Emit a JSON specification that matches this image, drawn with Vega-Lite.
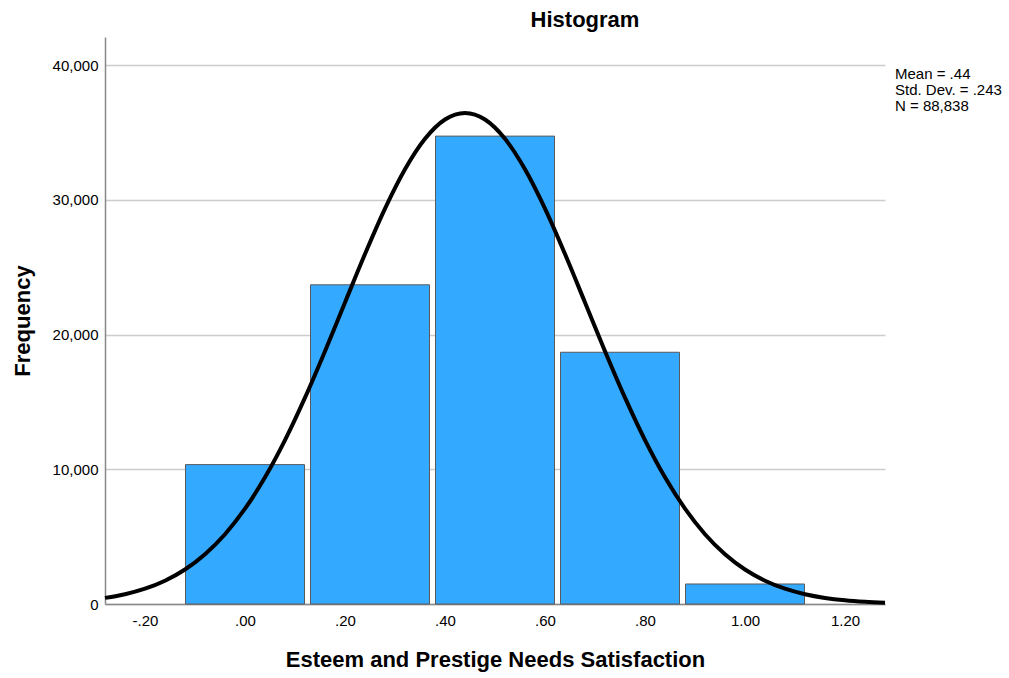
{
  "$schema": "https://vega.github.io/schema/vega-lite/v6.json",
  "width": 780,
  "height": 567,
  "autosize": "none",
  "padding": {"left": 105, "top": 37, "right": 124, "bottom": 74},
  "background": "white",
  "config": {
    "font": "Liberation Sans",
    "view": {"stroke": null}
  },
  "title": {
    "text": "Histogram",
    "font": "Liberation Sans",
    "fontSize": 22,
    "fontWeight": "bold",
    "color": "#000000",
    "anchor": "middle",
    "frame": "group",
    "dx": 90,
    "baseline": "alphabetic",
    "offset": -12
  },
  "datasets": {
    "bars": [
      {"value": 0.0, "count": 10349},
      {"value": 0.25, "count": 23700},
      {"value": 0.5, "count": 34740},
      {"value": 0.75, "count": 18692},
      {"value": 1.0, "count": 1486}
    ],
    "curve": [
      {"x": -0.28, "y": 453}, {"x": -0.24, "y": 727}, {"x": -0.2, "y": 1137}, {"x": -0.16, "y": 1730},
      {"x": -0.12, "y": 2562}, {"x": -0.08, "y": 3694}, {"x": -0.04, "y": 5182}, {"x": 0.0, "y": 7077},
      {"x": 0.04, "y": 9407}, {"x": 0.08, "y": 12169}, {"x": 0.12, "y": 15321}, {"x": 0.16, "y": 18773},
      {"x": 0.2, "y": 22389}, {"x": 0.24, "y": 25986}, {"x": 0.28, "y": 29356}, {"x": 0.32, "y": 32277},
      {"x": 0.36, "y": 34539}, {"x": 0.4, "y": 35971}, {"x": 0.44, "y": 36462}, {"x": 0.48, "y": 35971},
      {"x": 0.52, "y": 34539}, {"x": 0.56, "y": 32277}, {"x": 0.6, "y": 29356}, {"x": 0.64, "y": 25986},
      {"x": 0.68, "y": 22389}, {"x": 0.72, "y": 18773}, {"x": 0.76, "y": 15321}, {"x": 0.8, "y": 12169},
      {"x": 0.84, "y": 9407}, {"x": 0.88, "y": 7077}, {"x": 0.92, "y": 5182}, {"x": 0.96, "y": 3694},
      {"x": 1.0, "y": 2562}, {"x": 1.04, "y": 1730}, {"x": 1.08, "y": 1137}, {"x": 1.12, "y": 727},
      {"x": 1.16, "y": 453}, {"x": 1.2, "y": 274}, {"x": 1.24, "y": 162}, {"x": 1.28, "y": 93}
    ],
    "stats": [
      {"stat": "Mean = .44"},
      {"stat": "Std. Dev. = .243"},
      {"stat": "N = 88,838"}
    ]
  },
  "layer": [
    {
      "data": {"name": "bars"},
      "mark": {"type": "bar", "size": 119, "fill": "#33AAFF", "stroke": "#5a5a5a", "strokeWidth": 1},
      "encoding": {
        "x": {
          "field": "value",
          "type": "quantitative",
          "scale": {"domain": [-0.28, 1.28], "nice": false, "zero": false, "padding": 0},
          "axis": {
            "values": [-0.2, 0, 0.2, 0.4, 0.6, 0.8, 1.0, 1.2],
            "format": ".2f",
            "labelExpr": "replace(replace(datum.label, '0.', '.'), '\u2212', '-')",
            "title": "Esteem and Prestige Needs Satisfaction",
            "titleFont": "Liberation Sans",
            "titleFontSize": 22,
            "titleFontWeight": "bold",
            "titleColor": "#000000",
            "titlePadding": 21,
            "labelFont": "Liberation Sans",
            "labelFontSize": 15,
            "labelColor": "#000000",
            "labelPadding": 9,
            "ticks": false,
            "tickSize": 0,
            "grid": false,
            "domainColor": "#888888",
            "domainWidth": 1.5,
            "labelFlush": false
          }
        },
        "y": {
          "field": "count",
          "type": "quantitative",
          "scale": {"domain": [0, 42100], "nice": false},
          "axis": {
            "values": [0, 10000, 20000, 30000, 40000],
            "format": ",d",
            "title": "Frequency",
            "titleFont": "Liberation Sans",
            "titleFontSize": 22,
            "titleFontWeight": "bold",
            "titleColor": "#000000",
            "titlePadding": 18,
            "labelFont": "Liberation Sans",
            "labelFontSize": 15,
            "labelColor": "#000000",
            "labelPadding": 7,
            "ticks": false,
            "tickSize": 0,
            "grid": true,
            "gridColor": "#cccccc",
            "gridWidth": 1.5,
            "domainColor": "#888888",
            "domainWidth": 1.5
          }
        }
      }
    },
    {
      "data": {"name": "curve"},
      "mark": {"type": "line", "color": "#000000", "strokeWidth": 4, "interpolate": "monotone"},
      "encoding": {
        "x": {"field": "x", "type": "quantitative"},
        "y": {"field": "y", "type": "quantitative"}
      }
    },
    {
      "data": {"name": "stats"},
      "mark": {"type": "point", "opacity": 0},
      "encoding": {
        "color": {
          "field": "stat",
          "type": "nominal",
          "scale": {"domain": ["Mean = .44", "Std. Dev. = .243", "N = 88,838"], "range": ["#ffffff", "#ffffff", "#ffffff"]},
          "legend": {
            "title": null,
            "orient": "none",
            "legendX": 775,
            "legendY": 29,
            "symbolSize": 0,
            "symbolStrokeWidth": 0,
            "symbolOpacity": 0,
            "labelOffset": 0,
            "labelFont": "Liberation Sans",
            "labelFontSize": 15,
            "labelColor": "#000000",
            "rowPadding": -2,
            "padding": 0
          }
        }
      }
    }
  ]
}
